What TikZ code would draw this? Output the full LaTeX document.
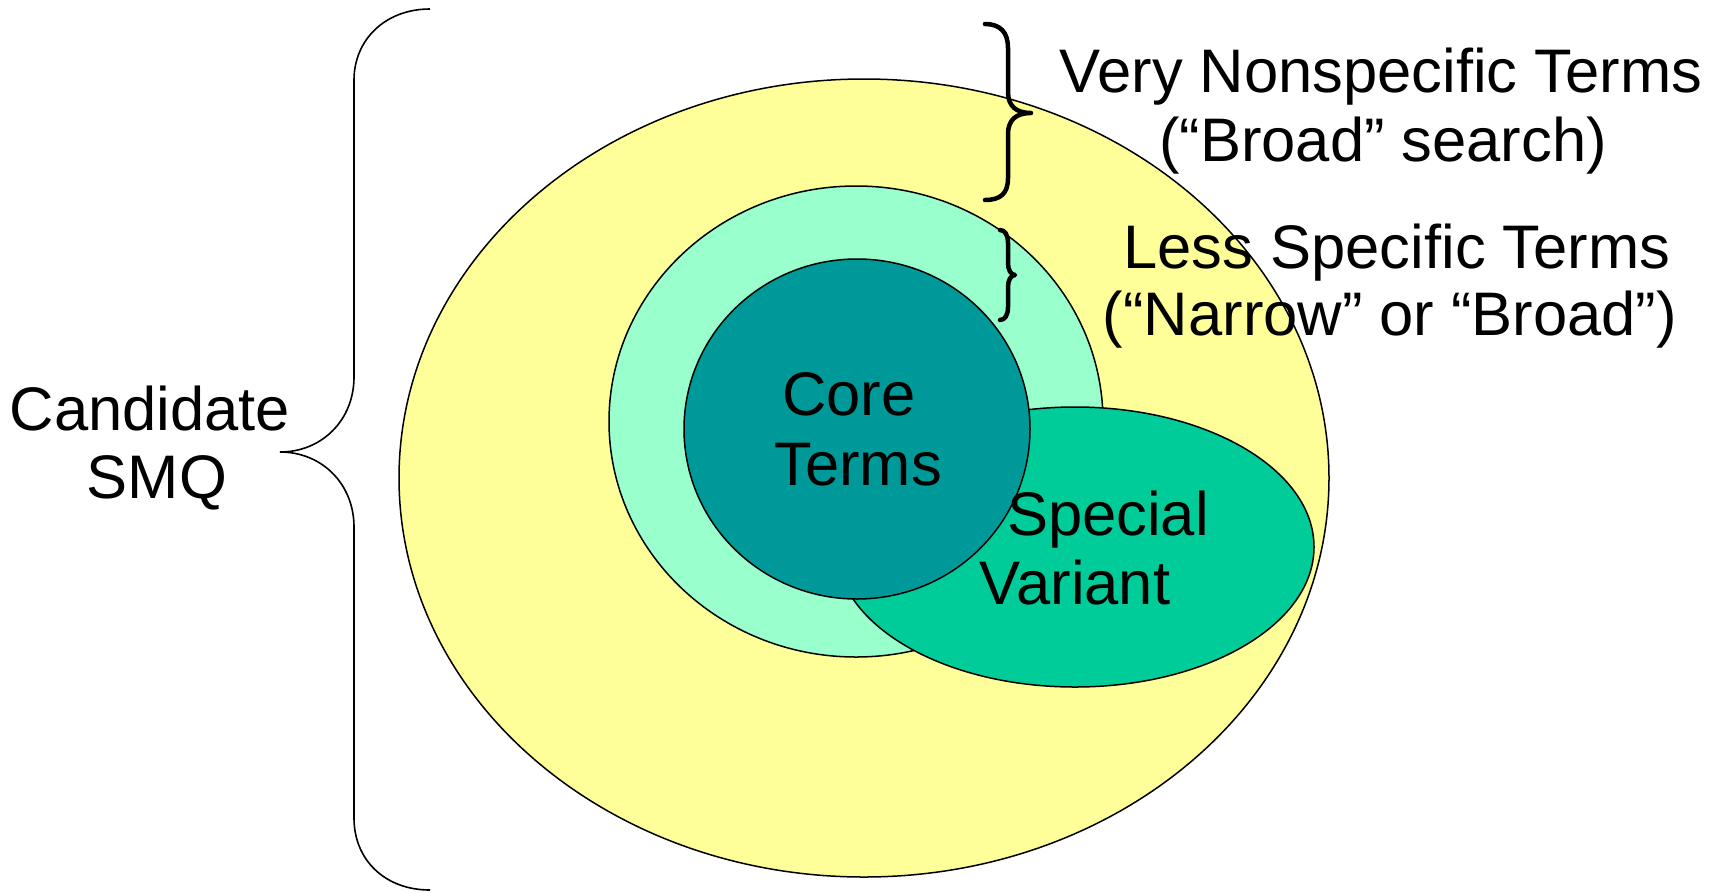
\documentclass[tikz,border=0pt]{standalone}
\usepackage{fontspec}
\setmainfont{Liberation Sans}
\usetikzlibrary{shapes.geometric}
\definecolor{cyellow}{HTML}{FFFF99}
\definecolor{clight}{HTML}{99FFCC}
\definecolor{ccore}{HTML}{009999}
\definecolor{cspecial}{HTML}{00CC99}
\tikzset{
  region/.style={ellipse, draw=black, line width=1.5pt, inner sep=0pt},
  lbl/.style={anchor=base, inner sep=0pt, font=\fontsize{61.5}{70}\selectfont},
  bigbrace/.style={draw=black, line width=1.6pt},
  smallbrace/.style={draw=black, line width=4.5pt, line cap=round, line join=round}
}
\begin{document}
\begin{tikzpicture}[x=1pt,y=-1pt]
\useasboundingbox (0,0) rectangle (1718,892);
% regions
\node[region, fill=cyellow, minimum width=930pt, minimum height=798pt] (outer) at (864,478) {};
\node[region, fill=clight, minimum width=494pt, minimum height=471pt] (less) at (856,421.5) {};
\node[region, fill=cspecial, minimum width=478pt, minimum height=280pt] (special) at (1075,547) {};
\node[region, fill=ccore, minimum width=346pt, minimum height=340pt] (core) at (857,429) {};
% big left brace
\draw[bigbrace] (430,9) .. controls (385,9) and (354,40) .. (354,80)
  -- (354,377) .. controls (354,420) and (322,452) .. (280,452)
  .. controls (322,452) and (354,484) .. (354,527)
  -- (354,818) .. controls (354,860) and (385,890) .. (430,890);
% small braces
\draw[smallbrace] (985,24) .. controls (1000,24) and (1008,32) .. (1008,48)
  -- (1008,92) .. controls (1008,106) and (1016,113) .. (1031,113)
  .. controls (1016,113) and (1008,120) .. (1008,134)
  -- (1008,178) .. controls (1008,194) and (1000,200) .. (985,200);
\draw[smallbrace] (1000,230) .. controls (1005,230) and (1008,235) .. (1008,243)
  -- (1008,263) .. controls (1008,270) and (1011,275) .. (1015,275)
  .. controls (1011,275) and (1008,280) .. (1008,287)
  -- (1008,307) .. controls (1008,315) and (1005,320) .. (1000,320);
% labels
\node[lbl] (cand1) at (150,430) {Candidate};
\node[lbl] (cand2) at (157,498) {SMQ};
\node[lbl] (core1) at (849,415) {Core};
\node[lbl] (core2) at (858,485) {Terms};
\node[lbl] (spec1) at (1108,535) {Special};
\node[lbl] (spec2) at (1075,604) {Variant};
\node[lbl] (vns1) at (1381,92) {Very Nonspecific Terms};
\node[lbl] (vns2) at (1383,161) {(“Broad” search)};
\node[lbl] (lst1) at (1397,268) {Less Specific Terms};
\node[lbl] (lst2) at (1390,335) {(“Narrow” or “Broad”)};
\end{tikzpicture}
\end{document}
